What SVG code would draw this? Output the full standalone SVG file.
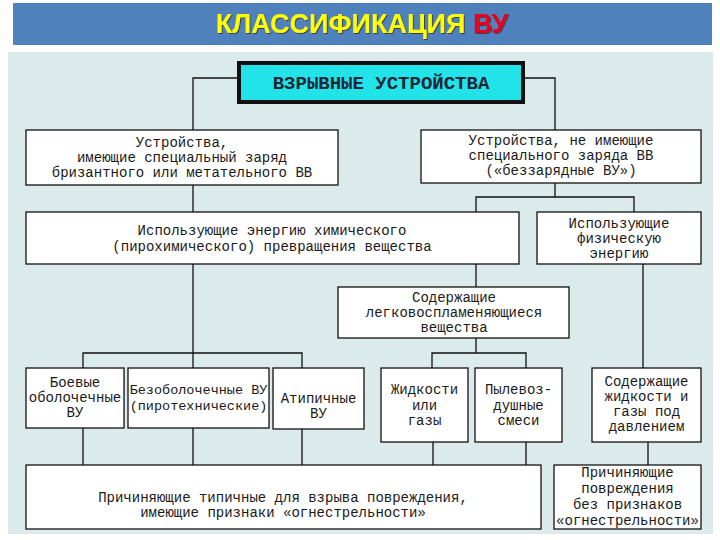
<svg xmlns="http://www.w3.org/2000/svg" width="720" height="540" viewBox="0 0 720 540">
<defs>
<style>
.box{fill:#ffffff;stroke:#111;stroke-width:1.3}
.t{font-family:"Liberation Mono","Courier New",monospace;font-size:14px;fill:#1a1a1a;text-anchor:middle}
.c{fill:none;stroke:#111;stroke-width:1.3}
.title{font-family:"Liberation Sans",Arial,sans-serif;font-weight:bold;font-size:27px;text-anchor:middle}
</style>
<filter id="sh" x="-5%" y="-20%" width="110%" height="140%">
<feDropShadow dx="1" dy="1" stdDeviation="0.4" flood-color="#303030" flood-opacity="0.8"/>
</filter>
</defs>
<rect x="0" y="0" width="720" height="540" fill="#ffffff"/>
<rect x="13" y="3" width="699" height="42" fill="#4f81bd"/>
<text class="title" x="362" y="33" filter="url(#sh)"><tspan fill="#ffff00">КЛАССИФИКАЦИЯ </tspan><tspan fill="#e8001c">ВУ</tspan></text>
<rect x="8" y="52" width="705" height="482" fill="#dbebeb"/>

<g id="connectors">
<path class="c" d="M239,78 H193 V130"/>
<path class="c" d="M523,78 H555 V130"/>
<path class="c" d="M193,185 V212"/>
<path class="c" d="M555,183 V197 M476,212 V197 H634 V212"/>
<path class="c" d="M476,264 V287"/>
<path class="c" d="M193,264 V353 M83,368 V353 H302 V368 M193,353 V368"/>
<path class="c" d="M643,264 V368"/>
<path class="c" d="M476,338 V353 M432,368 V353 H526 V368"/>
<path class="c" d="M83,428 V465 M193,428 V465 M302,429 V465 M433,442 V465 M526,442 V465 M648,442 V465"/>
</g>

<g id="root">
<rect x="239" y="63" width="284" height="39" fill="#22e3e8" stroke="#111" stroke-width="4"/>
<text x="381" y="89" style="font-family:'Liberation Mono','Courier New',monospace;font-size:19px;font-weight:bold;fill:#1a2636;text-anchor:middle">ВЗРЫВНЫЕ УСТРОЙСТВА</text>
</g>

<g id="n-charge">
<rect class="box" x="26" y="130" width="312" height="55"/>
<text class="t" x="182" y="147">Устройства,</text>
<text class="t" x="182" y="162">имеющие специальный заряд</text>
<text class="t" x="182" y="177">бризантного или метательного ВВ</text>
</g>

<g id="n-nocharge">
<rect class="box" x="421" y="130" width="280" height="53"/>
<text class="t" x="561" y="145">Устройства, не имеющие</text>
<text class="t" x="561" y="160">специального заряда ВВ</text>
<text class="t" x="561" y="175">(«беззарядные ВУ»)</text>
</g>

<g id="n-chem">
<rect class="box" x="26" y="212" width="493" height="52"/>
<text class="t" x="272" y="235">Использующие энергию химического</text>
<text class="t" x="272" y="251">(пирохимического) превращения вещества</text>
</g>

<g id="n-phys">
<rect class="box" x="537" y="212" width="164" height="52"/>
<text class="t" x="619" y="228">Использующие</text>
<text class="t" x="619" y="243">физическую</text>
<text class="t" x="619" y="258">энергию</text>
</g>

<g id="n-flammable">
<rect class="box" x="338" y="287" width="231" height="51"/>
<text class="t" x="454" y="302">Содержащие</text>
<text class="t" x="454" y="317">легковоспламеняющиеся</text>
<text class="t" x="454" y="332">вещества</text>
</g>

<g id="n-combat">
<rect class="box" x="26" y="368" width="98" height="60"/>
<text class="t" x="75" y="387">Боевые</text>
<text class="t" x="75" y="402">оболочечные</text>
<text class="t" x="75" y="417">ВУ</text>
</g>

<g id="n-pyro">
<rect class="box" x="128" y="368" width="141" height="60"/>
<text class="t" x="198.5" y="394" style="font-size:13.5px">Безоболочечные ВУ</text>
<text class="t" x="198.5" y="410" style="font-size:13.5px">(пиротехнические)</text>
</g>

<g id="n-atypical">
<rect class="box" x="273" y="368" width="91" height="61"/>
<text class="t" x="318.5" y="403">Атипичные</text>
<text class="t" x="318.5" y="418">ВУ</text>
</g>

<g id="n-liquids">
<rect class="box" x="381" y="368" width="87" height="74"/>
<text class="t" x="424.5" y="394">Жидкости</text>
<text class="t" x="424.5" y="410">или</text>
<text class="t" x="424.5" y="425">газы</text>
</g>

<g id="n-dust">
<rect class="box" x="475" y="368" width="87" height="74"/>
<text class="t" x="518.5" y="394">Пылевоз-</text>
<text class="t" x="518.5" y="410">душные</text>
<text class="t" x="518.5" y="425">смеси</text>
</g>

<g id="n-pressure">
<rect class="box" x="592" y="368" width="109" height="74"/>
<text class="t" x="646.5" y="386">Содержащие</text>
<text class="t" x="646.5" y="401">жидкости и</text>
<text class="t" x="646.5" y="416">газы под</text>
<text class="t" x="646.5" y="431">давлением</text>
</g>

<g id="n-typical">
<rect class="box" x="26" y="465" width="515" height="64"/>
<text class="t" x="283" y="502">Причиняющие типичные для взрыва повреждения,</text>
<text class="t" x="283" y="517">имеющие признаки «огнестрельности»</text>
</g>

<g id="n-nosigns">
<rect class="box" x="554" y="465" width="147" height="64"/>
<text class="t" x="627.5" y="477">Причиняющие</text>
<text class="t" x="627.5" y="493">повреждения</text>
<text class="t" x="627.5" y="509">без признаков</text>
<text class="t" x="627.5" y="525">«огнестрельности»</text>
</g>
</svg>
